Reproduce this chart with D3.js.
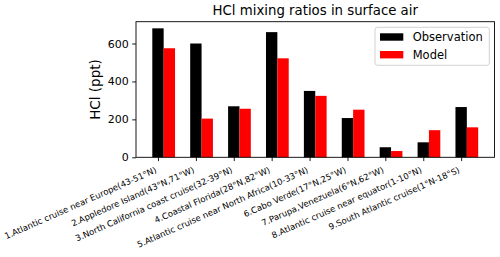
<!DOCTYPE html>
<html>
<head>
<meta charset="utf-8">
<script src="https://cdn.jsdelivr.net/npm/d3@7"></script>
<style>
  body { margin: 0; background: #fff; }
  svg { display: block; font-family: "DejaVu Sans", sans-serif; }
</style>
</head>
<body>
<div id="chart"></div>
<script>
// data
const sites = [
  "1.Atlantic cruise near Europe(43-51°N)",
  "2.Appledore Island(43°N,71°W)",
  "3.North California coast cruise(32-39°N)",
  "4.Coastal Florida(28°N,82°W)",
  "5.Atlantic cruise near North Africa(10-33°N)",
  "6.Cabo Verde(17°N,25°W)",
  "7.Parupa,Venezuela(6°N,62°W)",
  "8.Atlantic cruise near equator(1-10°N)",
  "9.South Atlantic cruise(1°N-18°S)"
]
const observation = [680, 600, 269, 660, 350, 207, 53, 79, 265]
const model = [575, 204, 256, 522, 324, 251, 33, 143, 158]
const yTicks = [0, 200, 400, 600]
const seriesNames = ["Observation", "Model"]
const seriesColors = ["#000000", "#ff0000"]

const width = 500, height = 257
const box = { left: 136, right: 494.5, top: 21.7, bottom: 157.3 }
const barW = 0.3

const svg = d3.select("#chart").append("svg")
    .attr("width", width)
    .attr("height", height)

// scales (matplotlib style: bars at i and i+w, 5% margins)
const x = d3.scaleLinear()
    .domain([-0.58, 8.88])
    .range([box.left, box.right])
const y = d3.scaleLinear()
    .domain([0, 715])
    .range([box.bottom, box.top])

const pxW = x(barW) - x(0)

// bars
svg.append("g").selectAll("rect")
    .data(observation)
    .join("rect")
    .attr("x", (d, i) => x(i - barW / 2))
    .attr("y", d => y(d))
    .attr("width", pxW)
    .attr("height", d => y(0) - y(d))
    .attr("fill", seriesColors[0])

svg.append("g").selectAll("rect")
    .data(model)
    .join("rect")
    .attr("x", (d, i) => x(i + barW / 2))
    .attr("y", d => y(d))
    .attr("width", pxW)
    .attr("height", d => y(0) - y(d))
    .attr("fill", seriesColors[1])

// frame
svg.append("rect")
    .attr("x", box.left)
    .attr("y", box.top)
    .attr("width", box.right - box.left)
    .attr("height", box.bottom - box.top)
    .attr("fill", "none")
    .attr("stroke", "#000")
    .attr("stroke-width", 0.9)

// y axis
const yAxis = svg.append("g")
    .attr("transform", `translate(${box.left},0)`)
    .call(d3.axisLeft(y).tickValues(yTicks).tickSize(3.8).tickPadding(3.5).tickFormat(d3.format("d")))
yAxis.select(".domain").remove()
yAxis.selectAll("line").attr("stroke", "#000").attr("stroke-width", 0.9)
yAxis.selectAll("text")
    .attr("font-size", 11)
    .attr("font-family", "DejaVu Sans")
    .attr("fill", "#000")

// x axis
const xAxis = svg.append("g")
    .attr("transform", `translate(0,${box.bottom})`)
    .call(d3.axisBottom(x).tickValues(d3.range(sites.length)).tickSize(3.8).tickFormat(""))
xAxis.select(".domain").remove()
xAxis.selectAll("line").attr("stroke", "#000").attr("stroke-width", 0.9)

svg.append("g").selectAll("text")
    .data(sites)
    .join("text")
    .attr("transform", (d, i) => `translate(${x(i) - 0.8},${box.bottom + 14.8}) rotate(-24)`)
    .attr("text-anchor", "end")
    .attr("font-size", 8.5)
    .attr("fill", "#000")
    .text(d => d)

// title + y label
svg.append("text")
    .attr("x", (box.left + box.right) / 2)
    .attr("y", 15)
    .attr("text-anchor", "middle")
    .attr("font-size", 13.3)
    .attr("fill", "#000")
    .text("HCl mixing ratios in surface air")

svg.append("text")
    .attr("transform", `translate(100,${(box.top + box.bottom) / 2}) rotate(-90)`)
    .attr("text-anchor", "middle")
    .attr("font-size", 13.5)
    .attr("fill", "#000")
    .text("HCl (ppt)")

// legend
const legend = svg.append("g")
legend.append("rect")
    .attr("x", 375)
    .attr("y", 27.3)
    .attr("width", 114.3)
    .attr("height", 38)
    .attr("rx", 2.5)
    .attr("fill", "#fff")
    .attr("fill-opacity", 0.8)
    .attr("stroke", "#cccccc")
    .attr("stroke-width", 0.9)

const items = legend.selectAll("g.item")
    .data(seriesNames)
    .join("g")
    .attr("class", "item")
    .attr("transform", (d, i) => `translate(380,${33.3 + i * 17.7})`)
items.append("rect")
    .attr("width", 23.3)
    .attr("height", 7.4)
    .attr("fill", (d, i) => seriesColors[i])
items.append("text")
    .attr("x", 32.7)
    .attr("y", 3.7)
    .attr("dy", "0.35em")
    .attr("font-size", 11.5)
    .attr("fill", "#000")
    .text(d => d)
</script>
</body>
</html>
